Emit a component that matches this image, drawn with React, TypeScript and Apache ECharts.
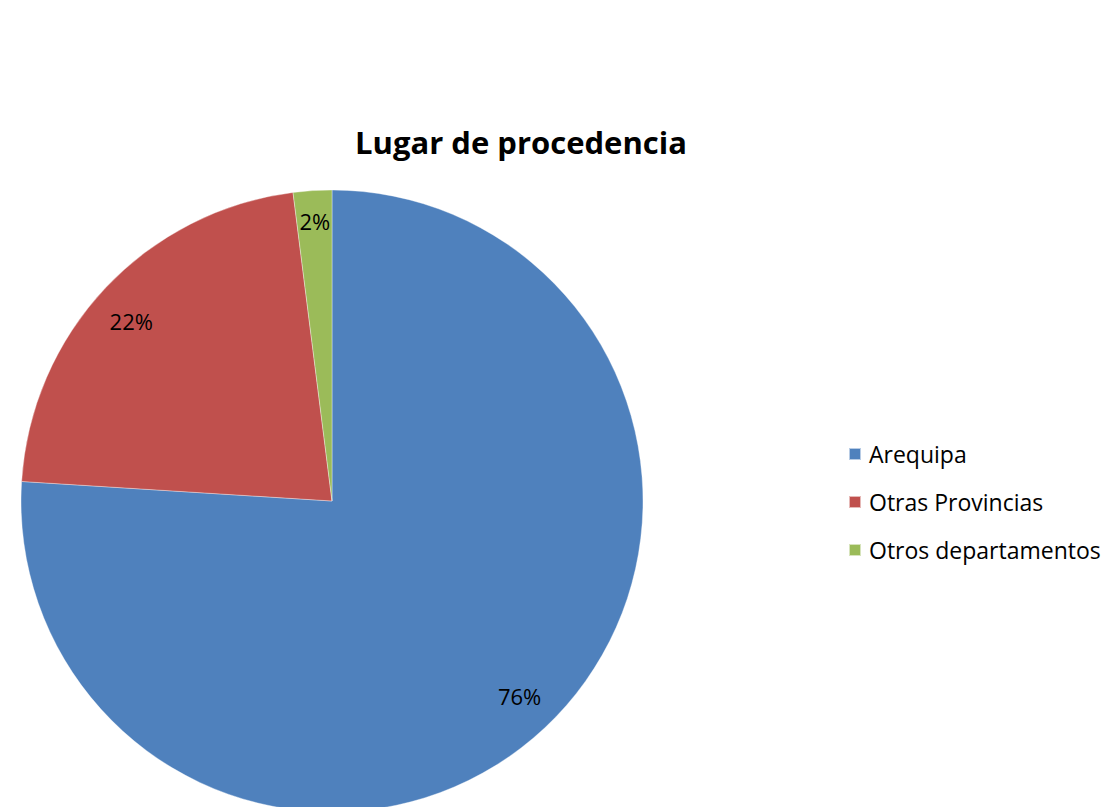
import React, { useEffect, useRef } from "react";
import * as echarts from "echarts";

const categories = ["Arequipa", "Otras Provincias", "Otros departamentos"];
const values = [76, 22, 2];
const colors = ["#4F81BD", "#C0504D", "#9BBB59"];
const titleText = "Lugar de procedencia";

// style: per-slice nudges of the percentage labels
const labelOffsets = [[0, -5], [-1, 8], [0, -7]];

export default function App() {
  const ref = useRef<HTMLDivElement>(null);
  useEffect(() => {
    if (!ref.current) return;
    const chart = echarts.init(ref.current, null, { renderer: "svg" });
    const data = categories.map((name, i) => ({ name, value: values[i], itemStyle: { color: colors[i] } }));
    const font = "'Open Sans', 'Noto Sans', sans-serif";
    chart.setOption({
      animation: false,
      backgroundColor: "#ffffff",
      title: {
        text: titleText,
        left: 521,
        textAlign: "center",
        top: 126,
        padding: 0,
        textStyle: { fontFamily: font, fontSize: 31, fontWeight: "bold", color: "#000" },
      },
      legend: {
        orient: "vertical",
        left: 848,
        top: 442,
        padding: 0,
        itemWidth: 12,
        itemHeight: 12,
        itemGap: 24,
        icon: "rect",
        data: categories,
        textStyle: { fontFamily: font, fontSize: 23, color: "#000", lineHeight: 24, padding: [0, 0, 0, 3] },
      },
      series: [
        {
          type: "pie",
          center: [332, 501],
          radius: [0, 311],
          startAngle: 90,
          clockwise: true,
          label: { show: false },
          labelLine: { show: false },
          itemStyle: { borderColor: "rgba(255,255,255,0.6)", borderWidth: 0.6 },
          emphasis: { disabled: true },
          data,
        },
        {
          type: "pie",
          center: [332, 501],
          radius: [231, 311],
          startAngle: 90,
          clockwise: true,
          silent: true,
          itemStyle: { color: "rgba(0,0,0,0)" },
          label: {
            show: true,
            position: "inside",
            formatter: "{c}%",
            fontFamily: font,
            fontSize: 22,
            color: "#000",
          },
          labelLine: { show: false },
          emphasis: { disabled: true },
          data: categories.map((name, i) => ({ name, value: values[i], label: { offset: labelOffsets[i] } })),
        },
      ],
    });
    return () => chart.dispose();
  }, []);
  return <div ref={ref} style={{ position: "fixed", left: 0, top: 0, width: 1107, height: 807 }} />;
}
